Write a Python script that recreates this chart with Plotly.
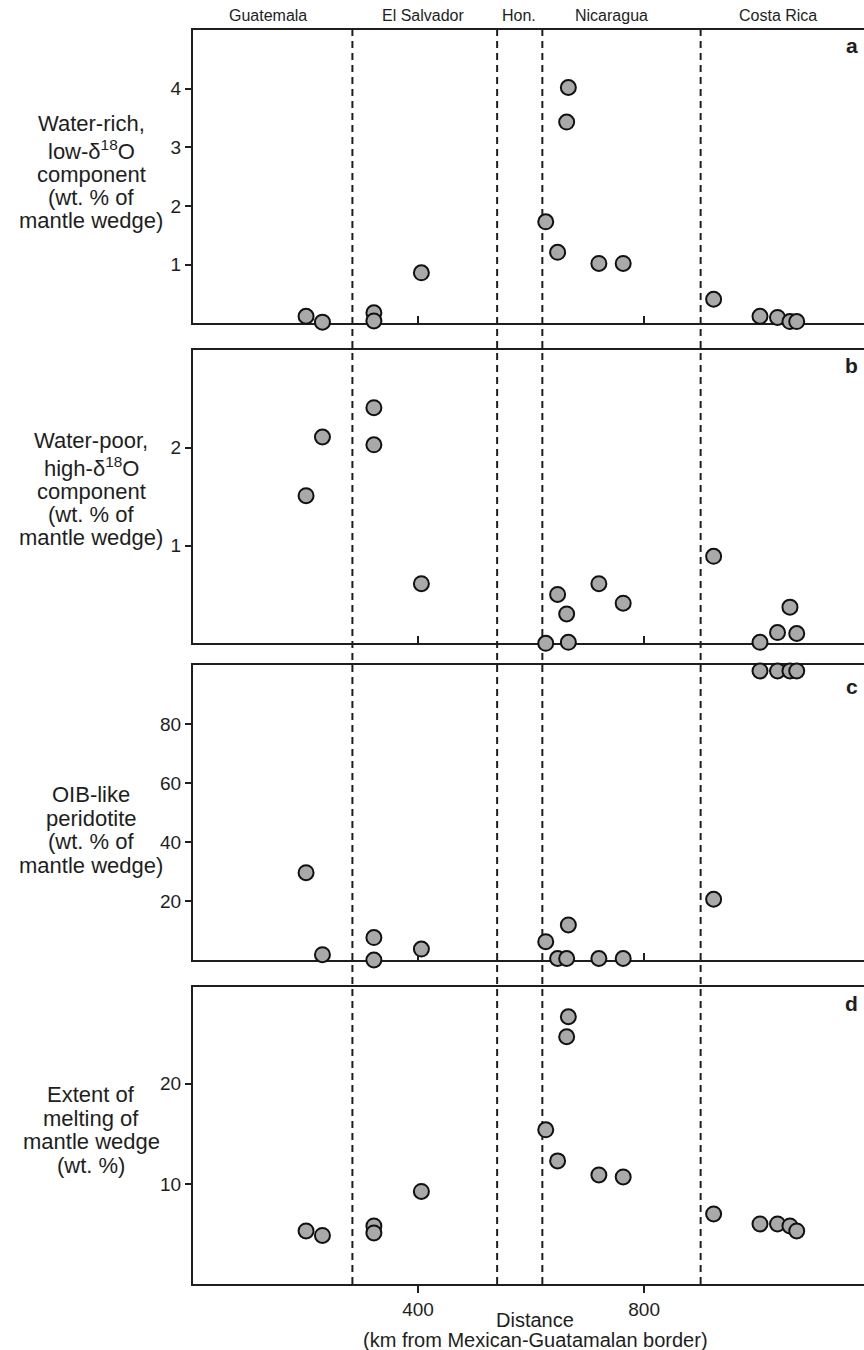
import plotly.graph_objects as go

# Sample positions along the arc (km from the Mexican-Guatemalan border)
dist_km = [202, 231, 322, 322, 406, 626, 647, 663, 666, 720, 763, 923, 1005, 1036, 1058, 1070]

# Panel a: water-rich, low-d18O component (wt. % of mantle wedge)
water_rich = [0.12, 0.02, 0.18, 0.04, 0.86, 1.73, 1.21, 3.43, 4.02, 1.02, 1.02, 0.41, 0.12, 0.10, 0.03, 0.03]
# Panel b: water-poor, high-d18O component (wt. % of mantle wedge)
water_poor = [1.51, 2.11, 2.41, 2.03, 0.61, 0.0, 0.50, 0.30, 0.01, 0.61, 0.41, 0.89, 0.01, 0.11, 0.37, 0.10]
# Panel c: OIB-like peridotite (wt. % of mantle wedge)
oib_peridotite = [29.6, 1.8, 7.6, 0.0, 3.7, 6.2, 0.5, 0.5, 11.9, 0.5, 0.5, 20.6, 98, 98, 98, 98]
# Panel d: extent of melting of mantle wedge (wt. %)
melt_extent = [5.3, 4.85, 5.8, 5.1, 9.25, 15.4, 12.3, 24.7, 26.7, 10.9, 10.7, 7.0, 6.0, 6.0, 5.8, 5.3]

panel_letters = ["a", "b", "c", "d"]
panel_titles = [
    ["Water-rich,", "low-δ<sup>18</sup>O", "component", "(wt. % of", "mantle wedge)"],
    ["Water-poor,", "high-δ<sup>18</sup>O", "component", "(wt. % of", "mantle wedge)"],
    ["OIB-like", "peridotite", "(wt. % of", "mantle wedge)"],
    ["Extent of", "melting of", "mantle wedge", "(wt. %)"],
]
y_ranges = [[0, 5], [0, 3], [0, 100], [0, 29.7]]
y_ticks = [[1, 2, 3, 4], [1, 2], [20, 40, 60, 80], [10, 20]]
x_ticks = [400, 800]
x_range = [2, 1189]

# Political borders along the arc (km) and country names above the panels
border_km = [284, 540, 620, 900]
countries = ["Guatemala", "El Salvador", "Hon.", "Nicaragua", "Costa Rica"]
country_km = [135, 409, 578, 743, 1037]

x_title = ["Distance", "(km from Mexican-Guatamalan border)"]

# ---- page geometry (pixels) ----
W, H = 864, 1350
ML, MR, MT, MB = 193, 0, 30, 66
PW, PH = W - ML - MR, H - MT - MB
panel_px = [(30, 323.3), (350, 643.3), (665, 960), (986.7, 1284)]
title_center_y = [172, 489, 830, 1130]
# vertical gaps between successive title lines (a little more room round the superscripts)
title_gaps = [[26, 25, 23, 23], [26, 25, 23, 23], [23.5, 23.5, 23.5], [23.5, 23.5, 23.5]]
letter_y = [45, 365, 686, 1003]


def fx(p):
    return (p - ML) / PW


def fy(p):
    return (H - MB - p) / PH


FONT = "Liberation Sans, Arial, Helvetica, sans-serif"
INK = "#1e1e1e"

series = [water_rich, water_poor, oib_peridotite, melt_extent]

fig = go.Figure()
layout = dict(
    width=W, height=H,
    margin=dict(l=ML, r=MR, t=MT, b=MB),
    paper_bgcolor="white", plot_bgcolor="white",
    showlegend=False,
    font=dict(family=FONT, color=INK),
)

annotations = []
shapes = []

for i, vals in enumerate(series):
    n = "" if i == 0 else str(i + 1)
    fig.add_trace(go.Scatter(
        x=dist_km, y=vals, mode="markers",
        xaxis="x" + n, yaxis="y" + n,
        cliponaxis=False,
        marker=dict(size=15, color="#a9a9a9", line=dict(color="#111111", width=2)),
        hoverinfo="x+y",
    ))
    top, bot = panel_px[i]
    last = i == 3
    layout["xaxis" + n] = dict(
        domain=[0, 1], range=x_range, anchor="y" + n,
        showgrid=False, zeroline=False,
        showline=True, linecolor=INK, linewidth=2, mirror=True,
        tickvals=x_ticks,
        ticks="outside" if last else "inside", ticklen=7, tickwidth=1.5, tickcolor=INK,
        showticklabels=last,
        tickfont=dict(size=19, family=FONT, color=INK),
        layer="below traces",
    )
    layout["yaxis" + n] = dict(
        domain=[fy(bot), fy(top)], range=y_ranges[i], anchor="x" + n,
        showgrid=False, zeroline=False,
        showline=True, linecolor=INK, linewidth=2,
        tickvals=y_ticks[i],
        ticks="outside", ticklen=6, tickwidth=1.5, tickcolor=INK,
        tickfont=dict(size=19, family=FONT, color=INK),
        layer="below traces",
    )
    # multi-line axis title, one line per annotation, centred on the panel block
    lines = panel_titles[i]
    gaps = title_gaps[i]
    ys = [0.0]
    for g in gaps:
        ys.append(ys[-1] + g)
    first = title_center_y[i] - ys[-1] / 2
    for k, line in enumerate(lines):
        annotations.append(dict(
            text=line, xref="paper", yref="paper",
            x=fx(91), y=fy(first + ys[k]),
            xanchor="center", yanchor="middle", showarrow=False,
            font=dict(size=22, family=FONT, color=INK),
        ))
    annotations.append(dict(
        text="<b>%s</b>" % panel_letters[i], xref="paper", yref="paper",
        x=fx(860), y=fy(letter_y[i]), xanchor="right", yanchor="middle",
        showarrow=False, font=dict(size=21, family=FONT, color=INK),
    ))

# dashed borders running through all four panels
for b in border_km:
    shapes.append(dict(
        type="line", xref="x4", yref="paper", x0=b, x1=b, y0=0, y1=1,
        line=dict(color=INK, width=2, dash="7px,5px"), layer="below",
    ))

for name, km in zip(countries, country_km):
    annotations.append(dict(
        text=name, xref="x4", yref="paper", x=km, y=fy(16),
        xanchor="center", yanchor="middle", showarrow=False,
        font=dict(size=16, family=FONT, color=INK),
    ))

for k, line in enumerate(x_title):
    annotations.append(dict(
        text=line, xref="paper", yref="paper", x=fx(535), y=fy(1320 + k * 20),
        xanchor="center", yanchor="middle", showarrow=False,
        font=dict(size=20, family=FONT, color=INK),
    ))

layout["annotations"] = annotations
layout["shapes"] = shapes
fig.update_layout(**layout)

fig.write_html("out.html")
